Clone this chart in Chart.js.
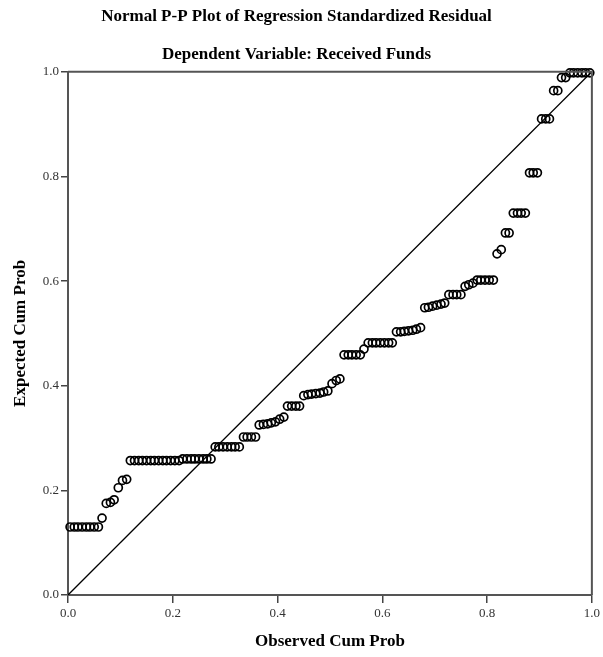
<!DOCTYPE html>
<html>
<head>
<meta charset="utf-8">
<script src="https://cdn.jsdelivr.net/npm/chart.js@4/dist/chart.umd.min.js"></script>
<style>
  body { margin: 0; background: #fff; }
  #wrap { width: 603px; height: 657px; }
</style>
</head>
<body>
<div id="wrap"><canvas id="pp" width="603" height="657"></canvas></div>
<script>
var title_text = 'Normal P-P Plot of Regression Standardized Residual';
var subtitle_text = 'Dependent Variable: Received Funds';
var x_label = 'Observed Cum Prob';
var y_label = 'Expected Cum Prob';
var tick_values = [0, 0.2, 0.4, 0.6, 0.8, 1.0];

// observed cumulative probability for each case
var observed_cum_prob = [
  0.004, 0.012, 0.019, 0.027, 0.035, 0.042, 0.050, 0.058, 0.065, 0.073,
  0.081, 0.088, 0.096, 0.104, 0.112, 0.119, 0.127, 0.135, 0.142, 0.150,
  0.158, 0.165, 0.173, 0.181, 0.188, 0.196, 0.204, 0.212, 0.219, 0.227,
  0.235, 0.242, 0.250, 0.258, 0.265, 0.273, 0.281, 0.288, 0.296, 0.304,
  0.312, 0.319, 0.327, 0.335, 0.342, 0.350, 0.358, 0.365, 0.373, 0.381,
  0.388, 0.396, 0.404, 0.412, 0.419, 0.427, 0.435, 0.442, 0.450, 0.458,
  0.465, 0.473, 0.481, 0.488, 0.496, 0.504, 0.512, 0.519, 0.527, 0.535,
  0.542, 0.550, 0.558, 0.565, 0.573, 0.581, 0.588, 0.596, 0.604, 0.612,
  0.619, 0.627, 0.635, 0.642, 0.650, 0.658, 0.665, 0.673, 0.681, 0.688,
  0.696, 0.704, 0.712, 0.719, 0.727, 0.735, 0.742, 0.750, 0.758, 0.765,
  0.773, 0.781, 0.788, 0.796, 0.804, 0.812, 0.819, 0.827, 0.835, 0.842,
  0.850, 0.858, 0.865, 0.873, 0.881, 0.888, 0.896, 0.904, 0.912, 0.919,
  0.927, 0.935, 0.942, 0.950, 0.958, 0.965, 0.973, 0.981, 0.988, 0.996
];

// expected cumulative probability, same order
var expected_cum_prob = [
  0.130, 0.130, 0.130, 0.130, 0.130, 0.130, 0.130, 0.130, 0.147, 0.175,
  0.177, 0.182, 0.205, 0.219, 0.221, 0.257, 0.257, 0.257, 0.257, 0.257,
  0.257, 0.257, 0.257, 0.257, 0.257, 0.257, 0.257, 0.257, 0.260, 0.260,
  0.260, 0.260, 0.260, 0.260, 0.260, 0.260, 0.283, 0.283, 0.283, 0.283,
  0.283, 0.283, 0.283, 0.302, 0.302, 0.302, 0.302, 0.325, 0.326, 0.327,
  0.329, 0.331, 0.336, 0.340, 0.361, 0.361, 0.361, 0.361, 0.381, 0.383,
  0.384, 0.385, 0.386, 0.388, 0.390, 0.404, 0.410, 0.413, 0.459, 0.459,
  0.459, 0.459, 0.459, 0.470, 0.482, 0.482, 0.482, 0.482, 0.482, 0.482,
  0.482, 0.503, 0.503, 0.504, 0.505, 0.506, 0.508, 0.511, 0.549, 0.550,
  0.552, 0.554, 0.556, 0.558, 0.574, 0.574, 0.574, 0.574, 0.590, 0.593,
  0.596, 0.602, 0.602, 0.602, 0.602, 0.602, 0.652, 0.660, 0.692, 0.692,
  0.730, 0.730, 0.730, 0.730, 0.807, 0.807, 0.807, 0.910, 0.910, 0.910,
  0.964, 0.964, 0.989, 0.989, 0.998, 0.998, 0.998, 0.998, 0.998, 0.998
];

// reference diagonal
var diagonal_x = [0, 1];
var diagonal_y = [0, 1];

var serif = "'Liberation Serif', 'Times New Roman', serif";

var points = observed_cum_prob.map(function(x, i) {
  return { x: x, y: expected_cum_prob[i] };
});
var diagonal = diagonal_x.map(function(x, i) {
  return { x: x, y: diagonal_y[i] };
});

// closes the plot box on top and right
var frameBox = {
  id: 'frameBox',
  afterDatasetsDraw: function(chart) {
    var a = chart.chartArea, ctx = chart.ctx;
    ctx.save();
    ctx.strokeStyle = '#555';
    ctx.lineWidth = 2;
    ctx.beginPath();
    ctx.moveTo(a.left, a.top);
    ctx.lineTo(a.right, a.top);
    ctx.lineTo(a.right, a.bottom);
    ctx.stroke();
    ctx.restore();
  }
};

var tickFormat = function(v) {
  return tick_values.indexOf(v) >= 0 || Math.abs(v - 1) < 1e-9 ? Number(v).toFixed(1) : '';
};

new Chart(document.getElementById('pp').getContext('2d'), {
  type: 'scatter',
  data: {
    datasets: [{
      type: 'line',
      data: diagonal,
      borderColor: '#000',
      borderWidth: 1.3,
      pointRadius: 0,
      fill: false,
      order: 2
    }, {
      data: points,
      pointStyle: 'circle',
      pointRadius: 4,
      pointBorderWidth: 1.7,
      pointBorderColor: '#000',
      pointBackgroundColor: 'rgba(255,255,255,0)',
      clip: false,
      order: 1
    }]
  },
  options: {
    responsive: false,
    animation: false,
    layout: { padding: { left: 0, right: 10, top: 0, bottom: 0 } },
    plugins: {
      legend: { display: false },
      tooltip: { enabled: false },
      title: {
        display: true,
        text: title_text,
        color: '#000',
        font: { family: serif, size: 17, weight: 'bold', lineHeight: 1.2 },
        padding: { top: 6, bottom: 10 }
      },
      subtitle: {
        display: true,
        text: subtitle_text,
        color: '#000',
        font: { family: serif, size: 17, weight: 'bold', lineHeight: 1.2 },
        padding: { top: 8, bottom: 7 }
      }
    },
    scales: {
      x: {
        type: 'linear',
        min: 0,
        max: 1,
        ticks: { stepSize: 0.2, color: '#333', padding: 3, font: { family: serif, size: 13 }, callback: tickFormat },
        grid: { display: true, drawOnChartArea: false, drawTicks: true, tickLength: 8, color: '#444', lineWidth: 1.5 },
        border: { display: true, color: '#555', width: 2 },
        title: { display: true, text: x_label, color: '#000', font: { family: serif, size: 17, weight: 'bold', lineHeight: 1.2 }, padding: { top: 0, bottom: 5 } },
        afterFit: function(scale) { scale.height = 62; }
      },
      y: {
        type: 'linear',
        min: 0,
        max: 1,
        ticks: { stepSize: 0.2, color: '#333', padding: 2, font: { family: serif, size: 13 }, callback: tickFormat },
        grid: { display: true, drawOnChartArea: false, drawTicks: true, tickLength: 7, color: '#444', lineWidth: 1.5 },
        border: { display: true, color: '#555', width: 2 },
        title: { display: true, text: y_label, color: '#000', font: { family: serif, size: 17, weight: 'bold', lineHeight: 1.2 }, padding: { top: 10, bottom: 0 } },
        afterFit: function(scale) { scale.width = 68; }
      }
    }
  },
  plugins: [frameBox]
});
</script>
</body>
</html>
